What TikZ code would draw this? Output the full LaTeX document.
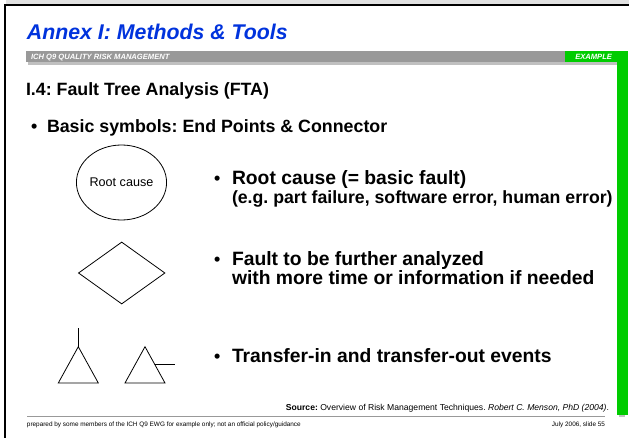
\documentclass[tikz,border=0pt]{standalone}
\usepackage{fontspec}
\setmainfont{Liberation Sans}
\usetikzlibrary{shapes.geometric}
\frenchspacing
\definecolor{titleblue}{RGB}{0,51,221}
\definecolor{slidegreen}{RGB}{0,204,0}
\definecolor{bargrey}{RGB}{153,153,153}
\definecolor{shadowgrey}{RGB}{192,192,192}
\definecolor{topgrey}{RGB}{225,225,225}
\tikzset{
  txt/.style={anchor=base west, inner sep=0pt, outer sep=0pt},
  txtr/.style={anchor=base east, inner sep=0pt, outer sep=0pt},
  bigbold/.style={font=\fontsize{17.8}{20}\selectfont\bfseries},
  rightbold/.style={font=\fontsize{19.3}{22}\selectfont\bfseries},
  subbold/.style={font=\fontsize{17.7}{20}\selectfont\bfseries},
  symb/.style={draw=black, line width=0.8pt},
  bul/.style={anchor=base west, inner sep=0pt, font=\fontsize{17.8}{20}\selectfont\bfseries},
}
\begin{document}
\begin{tikzpicture}[x=1pt,y=-1pt]
\useasboundingbox (0,0) rectangle (629,438);
\fill[white] (0,0) rectangle (629,438);
% frame
\fill[topgrey] (6,0) rectangle (629,4);
\fill[black] (4,4.5) rectangle (629,6.5);
\fill[black] (4,4.5) rectangle (6,438);
% title
\node[txt, text=titleblue, font=\fontsize{21.3}{25}\selectfont\bfseries\itshape] (title) at (27,39.5) {Annex I: Methods \& Tools};
% grey bar and green
\fill[shadowgrey] (28,54) rectangle (619,65);
\fill[bargrey] (26,51) rectangle (565,62);
\fill[slidegreen] (565,51) rectangle (628,62);
\fill[shadowgrey] (619,52) rectangle (625,417);
\fill[slidegreen] (617,51) rectangle (628,415);
\node[txt, text=white, font=\fontsize{7.6}{9}\selectfont\bfseries\itshape] (barlabel) at (31,59.8) {ICH Q9 QUALITY RISK MANAGEMENT};
\node[txtr, text=white, font=\fontsize{7.6}{9}\selectfont\bfseries\itshape] (example) at (612,59.8) {EXAMPLE};
% heading
\node[txt, bigbold] (heading) at (26,96) {I.4: Fault Tree Analysis (FTA)};
\node[bul] (b0) at (31,133) {•};
\node[txt, bigbold] (basic) at (47,133) {Basic symbols: End Points \& Connector};
% symbols
\node[symb, ellipse, minimum width=87pt, minimum height=75pt, inner sep=0pt,
      font=\fontsize{12.6}{14}\selectfont] (root) at (121.5,182.5) {Root cause};
\node[symb, diamond, minimum width=86.6pt, minimum height=62pt, inner sep=0pt, aspect=1.4] (fault) at (121.7,273) {};
% transfer-in
\coordinate (tinA) at (78.3,346.7);
\coordinate (tinTop) at (78.3,327.7);
\draw[symb] (tinA) -- (58.3,383) -- (98.3,383) -- cycle;
\draw[symb] (tinA) -- (tinTop);
% transfer-out
\coordinate (toutA) at (145,346.7);
\coordinate (toutS) at (154.7,364.3);
\coordinate (toutE) at (175,364.3);
\draw[symb] (toutA) -- (125,383) -- (165,383) -- cycle;
\draw[symb] (toutS) -- (toutE);
% right bullets
\node[bul] (b1) at (214,185) {•};
\node[txt, rightbold] (t1) at (232,185) {Root cause (= basic fault)};
\node[txt, subbold] (t1b) at (232,204) {(e.g. part failure, software error, human error)};
\node[bul] (b2) at (214,266) {•};
\node[txt, rightbold] (t2) at (232,266) {Fault to be further analyzed};
\node[txt, rightbold] (t2b) at (232,285) {with more time or information if needed};
\node[bul] (b3) at (214,362) {•};
\node[txt, rightbold] (t3) at (232,362) {Transfer-in and transfer-out events};
% source
\node[txtr, font=\fontsize{8.6}{10}\selectfont] (source) at (609,410) {\textbf{Source:} Overview of Risk Management Techniques. \textit{Robert C. Menson, PhD (2004)}.};
% footer
\draw[bargrey, line width=0.8pt] (27,416) -- (605,416);
\node[txt, font=\fontsize{6.4}{8}\selectfont] (foot) at (27,426) {prepared by some members of the ICH Q9 EWG for example only; not an official policy/guidance};
\node[txtr, font=\fontsize{6.4}{8}\selectfont] (slide) at (605,426) {July 2006, slide 55};
\end{tikzpicture}
\end{document}
